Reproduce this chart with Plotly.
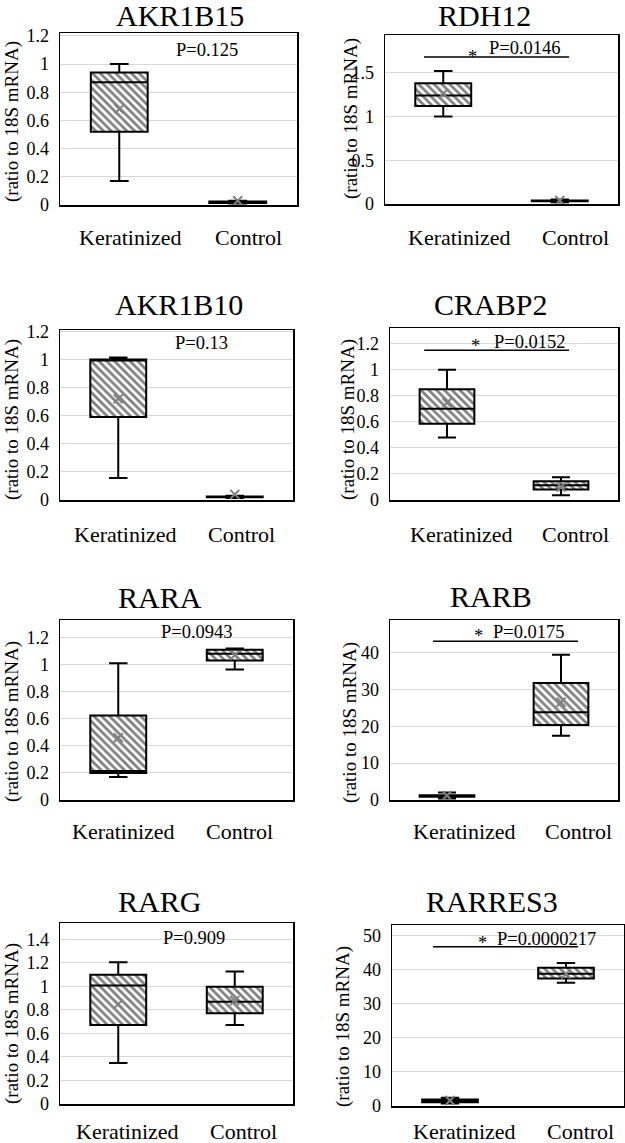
import plotly.graph_objects as go

# ---------------- data ----------------
genes = ["AKR1B15", "RDH12", "AKR1B10", "CRABP2", "RARA", "RARB", "RARG", "RARRES3"]
groups = ["Keratinized", "Control"]

whisker_low = [[0.17, 0.010], [1.00, 0.020], [0.157, 0.015], [0.48, 0.036],
               [0.17, 0.965], [0.40, 17.4], [0.348, 0.673], [0.70, 36.1]]
q1 = [[0.52, 0.015], [1.12, 0.030], [0.59, 0.020], [0.585, 0.080],
      [0.20, 1.03], [0.90, 20.3], [0.673, 0.773], [1.10, 37.3]]
median = [[0.87, 0.020], [1.24, 0.035], [1.00, 0.022], [0.70, 0.113],
          [0.215, 1.08], [1.10, 23.8], [1.009, 0.869], [1.50, 38.7]]
q3 = [[0.94, 0.025], [1.38, 0.040], [1.00, 0.025], [0.85, 0.144],
      [0.624, 1.11], [1.30, 31.7], [1.10, 0.997], [1.90, 40.5]]
whisker_high = [[1.00, 0.030], [1.52, 0.050], [1.014, 0.030], [1.00, 0.175],
                [1.01, 1.12], [2.00, 39.4], [1.205, 1.128], [2.40, 41.9]]
mean = [[0.68, 0.030], [1.26, 0.040], [0.72, 0.040], [0.746, 0.10],
        [0.46, 1.07], [1.20, 26.5], [0.85, 0.88], [1.60, 38.7]]
p_values = ["P=0.125", "P=0.0146", "P=0.13", "P=0.0152",
            "P=0.0943", "P=0.0175", "P=0.909", "P=0.0000217"]
significant = [False, True, False, True, False, True, False, True]
y_title = "(ratio to 18S mRNA)"

# ---------------- layout / style (pixels) ----------------
W, H = 625, 1143
FONT = "Liberation Serif"
panels = [
    dict(px=(60, 297), py=(33, 205), ymax=1.22, dtick=0.2, title=(180, 15), ytit=(12, 122),
         lab_y=237.5, lab_shift=11, p=(0.74, 1.10), star=None, line=None),
    dict(px=(385, 618), py=(35, 204), ymax=1.93, dtick=0.5, title=(484, 15), ytit=(351, 119),
         lab_y=237.5, lab_shift=16, p=(0.70, 1.78), star=(0.255, 1.72), line=(-0.165, 1.08, 1.68)),
    dict(px=(60, 293), py=(330, 500), ymax=1.21, dtick=0.2, title=(179, 305), ytit=(12, 420),
         lab_y=534, lab_shift=7, p=(0.716, 1.12), star=None, line=None),
    dict(px=(390, 618), py=(328, 500), ymax=1.32, dtick=0.2, title=(490, 305), ytit=(348, 420),
         lab_y=534, lab_shift=14, p=(0.724, 1.215), star=(0.248, 1.215), line=(-0.2, 1.07, 1.15)),
    dict(px=(60, 293), py=(620, 800), ymax=1.33, dtick=0.2, title=(160, 597), ytit=(12, 722),
         lab_y=831, lab_shift=5, p=(0.673, 1.24), star=None, line=None),
    dict(px=(390, 618), py=(620, 800), ymax=48.8, dtick=10, title=(491, 596), ytit=(350, 723),
         lab_y=831, lab_shift=17, p=(0.717, 45.6), star=(0.278, 45.6), line=(-0.123, 1.149, 43.05)),
    dict(px=(60, 293), py=(923, 1104), ymax=1.54, dtick=0.2, title=(159, 901), ytit=(12, 1024),
         lab_y=1131, lab_shift=9, p=(0.65, 1.414), star=None, line=None),
    dict(px=(392, 624), py=(925, 1106), ymax=53, dtick=10, title=(492, 901), ytit=(343, 1027),
         lab_y=1131, lab_shift=14, p=(0.836, 49.0), star=(0.276, 49.0), line=(-0.147, 1.103, 46.6)),
]

fig = go.Figure()
layout = dict(width=W, height=H, margin=dict(l=0, r=0, t=0, b=0, pad=0, autoexpand=False),
              paper_bgcolor="white", plot_bgcolor="white", showlegend=False,
              font=dict(family=FONT, color="black"))
annotations = []
shapes = []

for i, gene in enumerate(genes):
    s = panels[i]
    n = "" if i == 0 else str(i + 1)
    xa, ya = "x" + n, "y" + n

    # hatched box bodies
    fig.add_trace(go.Bar(
        x=groups, y=[h - l for h, l in zip(q3[i], q1[i])], base=q1[i], width=0.48,
        marker=dict(color="white", line=dict(width=0),
                    pattern=dict(shape="\\", fgcolor="black", bgcolor="white", size=5.5, solidity=0.5)),
        xaxis=xa, yaxis=ya, hoverinfo="skip"))
    # outline, median, whiskers
    fig.add_trace(go.Box(
        x=groups, q1=q1[i], median=median[i], q3=q3[i],
        lowerfence=whisker_low[i], upperfence=whisker_high[i],
        width=0.48, whiskerwidth=0.33, fillcolor="rgba(0,0,0,0)",
        line=dict(color="black", width=2), boxpoints=False,
        xaxis=xa, yaxis=ya))
    # mean markers
    fig.add_trace(go.Scatter(
        x=groups, y=mean[i], mode="markers",
        marker=dict(symbol="x-thin", size=9, color="#808080", line=dict(color="#808080", width=2)),
        xaxis=xa, yaxis=ya))

    layout["xaxis" + n] = dict(
        domain=[s["px"][0] / W, s["px"][1] / W], anchor=ya, type="category",
        range=[-0.5, 1.5], showticklabels=False, showgrid=False, ticks="", automargin=False,
        showline=True, mirror=True, linecolor="black", linewidth=1.5, zeroline=False)
    layout["yaxis" + n] = dict(
        domain=[1 - s["py"][1] / H, 1 - s["py"][0] / H], anchor=xa, automargin=False,
        range=[0, s["ymax"]], tick0=0, dtick=s["dtick"], ticks="",
        showgrid=True, gridcolor="#d9d9d9", gridwidth=1, zeroline=False,
        showline=True, mirror=True, linecolor="black", linewidth=1.5,
        tickfont=dict(family=FONT, size=18, color="black"), ticklabelstandoff=6)

    # panel title
    annotations.append(dict(text=gene, xref="paper", yref="paper",
                            x=s["title"][0] / W, y=1 - s["title"][1] / H,
                            xanchor="center", yanchor="middle", showarrow=False,
                            font=dict(family=FONT, size=30, color="black")))
    # y-axis title
    annotations.append(dict(text=y_title, xref="paper", yref="paper", textangle=-90,
                            x=s["ytit"][0] / W, y=1 - s["ytit"][1] / H,
                            xanchor="center", yanchor="middle", showarrow=False,
                            font=dict(family=FONT, size=19, color="black")))
    # category labels
    for k, g in enumerate(groups):
        annotations.append(dict(text=g, xref=xa, yref="paper", x=k, xshift=s["lab_shift"],
                                y=1 - s["lab_y"] / H, xanchor="center", yanchor="middle",
                                showarrow=False, font=dict(family=FONT, size=22, color="black")))
    # p-value
    annotations.append(dict(text=p_values[i], xref=xa, yref=ya, x=s["p"][0], y=s["p"][1],
                            xanchor="center", yanchor="middle", showarrow=False,
                            font=dict(family=FONT, size=18.5, color="black")))
    if significant[i]:
        annotations.append(dict(text="*", xref=xa, yref=ya, x=s["star"][0], y=s["star"][1],
                                yshift=-4, xanchor="center", yanchor="middle", showarrow=False,
                                font=dict(family=FONT, size=18.5, color="black")))
        x0, x1, yl = s["line"]
        shapes.append(dict(type="line", xref=xa, yref=ya, x0=x0, x1=x1, y0=yl, y1=yl,
                           line=dict(color="black", width=1.5)))

layout["annotations"] = annotations
layout["shapes"] = shapes
fig.update_layout(**layout)
fig.write_html("out.html", config={"displayModeBar": False, "staticPlot": True},
               post_script="document.body.style.margin='0';document.body.style.overflow='hidden';")
